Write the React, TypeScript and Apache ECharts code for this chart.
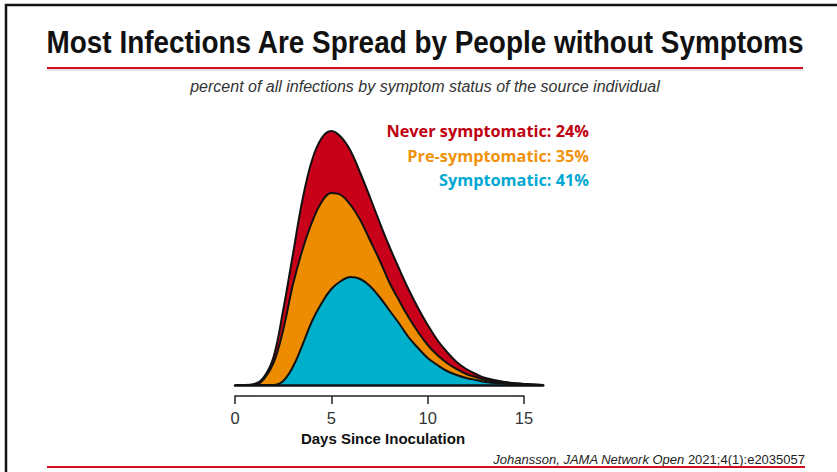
import React, { useEffect, useRef } from "react";
import * as echarts from "echarts";

// days since inoculation
const days = [0, 0.5, 1, 1.5, 2, 2.5, 3, 3.5, 4, 4.5, 5, 5.5, 6, 6.5, 7, 7.5, 8, 8.5, 9, 9.5, 10, 10.5, 11, 11.5, 12, 12.5, 13, 14, 15, 16];
// layer thicknesses (stacked), arbitrary density units
const symptomatic = [0, 0, 0, 0, 0, 4, 18, 40, 64, 82, 96, 104, 108, 106, 99, 88, 75, 62, 48, 37, 27, 20, 14, 10, 7, 5, 3, 1.5, 0.5, 0];
const preSymptomatic = [0, 0, 0, 6, 22, 51, 82, 95, 99, 101, 96, 86, 72, 59, 46, 37, 28, 23, 20, 16, 13, 10, 8, 6, 4, 3, 2, 1, 0.5, 0];
const neverSymptomatic = [0, 0, 1, 2, 6, 20, 30, 50, 62, 64, 62, 58, 54, 47, 43, 38, 36, 32, 28, 24, 20, 15, 11, 7, 5, 3, 2, 0.5, 0, 0];

const legendLabels = ["Never symptomatic: 24%", "Pre-symptomatic: 35%", "Symptomatic: 41%"];
const tickLabels = ["0", "5", "10", "15"];

const title = "Most Infections Are Spread by People without Symptoms";
const subtitle = "percent of all infections by symptom status of the source individual";
const citeItalic = "Johansson, JAMA Network Open";
const citeRegular = "2021;4(1):e2035057";

const RED = "#C8001A";
const ORANGE = "#EE8C00";
const BLUE = "#00AFCC";

export default function App() {
  const ref = useRef<HTMLDivElement>(null);
  useEffect(() => {
    document.body.style.margin = "0";
    const chart = echarts.init(ref.current!, null, { renderer: "svg" });
    // cumulative tops of the stacked layers
    const cumBlue = symptomatic.slice();
    const cumOrange = symptomatic.map((v, i) => v + preSymptomatic[i]);
    const cumRed = cumOrange.map((v, i) => v + neverSymptomatic[i]);
    const toPairs = (vals: number[]) => days.map((d, i) => [d, vals[i]]);
    const mkSeries = (name: string, vals: number[], color: string, z: number) => ({
      name,
      type: "line",
      xAxisIndex: 0,
      yAxisIndex: 0,
      data: toPairs(vals),
      smooth: 0.4,
      symbol: "none",
      z,
      lineStyle: { color: "#111", width: 2 },
      areaStyle: { color, opacity: 1 },
    });
    const legendFont = "bold 16.3px 'Open Sans', sans-serif";
    chart.setOption({
      animation: false,
      backgroundColor: "#fff",
      grid: [
        { left: 235, top: 110, width: 308.3, height: 275 },
        { left: 235, top: 390, width: 289, height: 6 },
      ],
      xAxis: [
        {
          gridIndex: 0,
          type: "value",
          min: 0,
          max: 16,
          z: 5,
          axisLine: { show: true, lineStyle: { color: "#111", width: 2.5 } },
          axisTick: { show: false },
          axisLabel: { show: false },
          splitLine: { show: false },
        },
        {
          gridIndex: 1,
          type: "value",
          min: 0,
          max: 15,
          interval: 5,
          axisLine: { show: true, lineStyle: { color: "#222", width: 1.5 } },
          axisTick: { show: true, length: 8, lineStyle: { color: "#222", width: 1.5 } },
          axisLabel: {
            margin: 13,
            fontSize: 16.5,
            color: "#333",
            fontFamily: "Liberation Sans",
            formatter: (v: number) => tickLabels[Math.round(v / 5)] ?? String(v),
          },
          splitLine: { show: false },
          name: "Days Since Inoculation",
          nameLocation: "middle",
          nameGap: 35,
          nameTextStyle: { fontSize: 15, fontWeight: "bold", color: "#111", fontFamily: "Liberation Sans", padding: [0, 0, 0, 7] },
        },
      ],
      yAxis: [
        { gridIndex: 0, type: "value", min: 0, max: 275, show: false },
        { gridIndex: 1, type: "value", min: 0, max: 1, show: false },
      ],
      series: [
        mkSeries("Never symptomatic", cumRed, RED, 2),
        mkSeries("Pre-symptomatic", cumOrange, ORANGE, 3),
        mkSeries("Symptomatic", cumBlue, BLUE, 4),
      ],
      graphic: [
        {
          type: "rect",
          shape: { x: 6, y: 5, width: 1000, height: 1000 },
          style: { fill: "none", stroke: "#111", lineWidth: 2.5 },
          silent: true,
        },
        {
          type: "text",
          x: 425,
          y: 42,
          scaleX: 0.9,
          style: {
            text: title,
            fill: "#111",
            font: "bold 31px 'Liberation Sans', sans-serif",
            textAlign: "center",
            textVerticalAlign: "middle",
          },
        },
        { type: "line", shape: { x1: 47, y1: 70, x2: 803, y2: 70 }, style: { stroke: "#c8c8c8", lineWidth: 1 } },
        { type: "line", shape: { x1: 47, y1: 68, x2: 803, y2: 68 }, style: { stroke: "#D0101A", lineWidth: 2 } },
        {
          type: "text",
          x: 425,
          y: 86,
          style: {
            text: subtitle,
            fill: "#333",
            font: "italic 16px 'Liberation Sans', sans-serif",
            textAlign: "center",
            textVerticalAlign: "middle",
          },
        },
        {
          type: "text",
          x: 589,
          y: 131,
          style: { text: legendLabels[0], fill: "#C00010", font: legendFont, textAlign: "right", textVerticalAlign: "middle" },
        },
        {
          type: "text",
          x: 589,
          y: 156,
          style: { text: legendLabels[1], fill: "#F0920A", font: legendFont, textAlign: "right", textVerticalAlign: "middle" },
        },
        {
          type: "text",
          x: 589,
          y: 180,
          style: { text: legendLabels[2], fill: "#00A8D2", font: legendFont, textAlign: "right", textVerticalAlign: "middle" },
        },
        {
          type: "text",
          x: 805,
          y: 459,
          style: {
            text: "{i|" + citeItalic + "} {r|" + citeRegular + "}",
            align: "right",
            verticalAlign: "middle",
            fill: "#222",
            fontSize: 13,
            fontFamily: "Liberation Sans",
            rich: {
              i: { fontStyle: "italic", fontSize: 13, fontFamily: "Liberation Sans", fill: "#222" },
              r: { fontSize: 13, fontFamily: "Liberation Sans", fill: "#222" },
            },
          },
        },
        { type: "line", shape: { x1: 47, y1: 467, x2: 805, y2: 467 }, style: { stroke: "#D0101A", lineWidth: 2 } },
      ],
    });
    return () => chart.dispose();
  }, []);
  return <div ref={ref} style={{ width: 837, height: 472 }} />;
}
